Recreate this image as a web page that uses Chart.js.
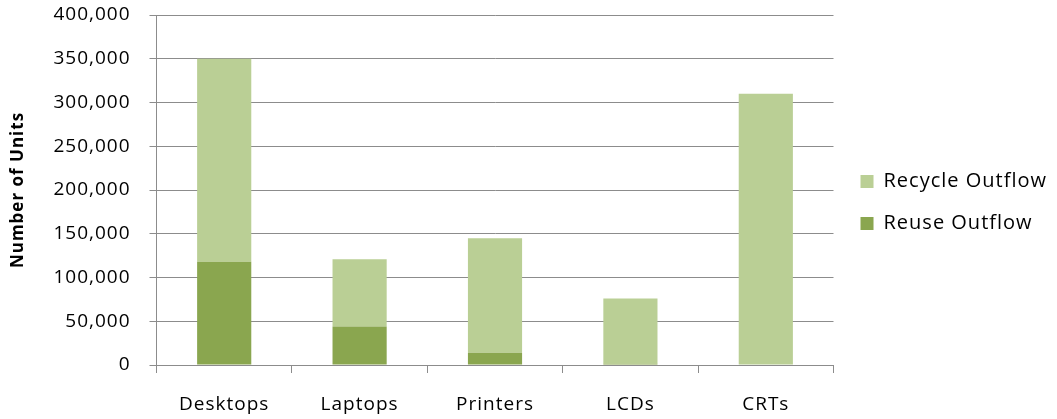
<!DOCTYPE html>
<html>
<head>
<meta charset="utf-8">
<script src="https://cdn.jsdelivr.net/npm/chart.js@4"></script>
<style>
html,body{margin:0;padding:0;background:#fff;overflow:hidden;}
#wrap{width:1057px;height:419px;position:relative;}
canvas{display:block;}
</style>
</head>
<body>
<div id="wrap"><canvas id="c" width="1057" height="419"></canvas></div>
<script>
const categories = ["Desktops", "Laptops", "Printers", "LCDs", "CRTs"];
const reuseOutflow = [118000, 44000, 14000, 1500, 0];
const recycleOutflow = [232000, 77000, 131000, 74500, 310000];
const yTicks = [0, 50000, 100000, 150000, 200000, 250000, 300000, 350000, 400000];
const seriesNames = ["Reuse Outflow", "Recycle Outflow"];
const yTitle = "Number of Units";

const FONT = "'Open Sans', sans-serif";
const gridCol = "#8c8c8c";

const spacing = {
  id: "spacing",
  beforeUpdate(chart) { chart.ctx.letterSpacing = "1px"; },
  afterLayout(chart) {
    const lg = chart.legend;
    if (lg) { lg.left += 5; lg.right += 5; }
  },
  beforeDraw(chart) { chart.ctx.letterSpacing = "1px"; }
};

new Chart(document.getElementById("c"), {
  type: "bar",
  data: {
    labels: categories,
    datasets: [
      { label: seriesNames[0], data: reuseOutflow, backgroundColor: "#8aa64f", categoryPercentage: 1, barPercentage: 0.4 },
      { label: seriesNames[1], data: recycleOutflow, backgroundColor: "#bacf95", categoryPercentage: 1, barPercentage: 0.4 }
    ]
  },
  plugins: [spacing],
  options: {
    responsive: false,
    animation: false,
    devicePixelRatio: 1,
    layout: { padding: { top: 15, left: 4, right: 5, bottom: 0 } },
    plugins: {
      tooltip: { enabled: false },
      legend: {
        position: "right",
        fullSize: false,
        reverse: true,
        title: { display: true, text: " ", font: { size: 12, lineHeight: 1 }, padding: { top: 6, bottom: 7 } },
        labels: {
          boxWidth: 13, boxHeight: 13, padding: 22,
          color: "#000",
          font: { family: FONT, size: 20 }
        }
      }
    },
    scales: {
      x: {
        stacked: true,
        afterFit: (s) => { s.height = 54; },
        grid: { offset: true, drawOnChartArea: false, color: gridCol, tickLength: 8 },
        border: { color: gridCol },
        ticks: { color: "#000", font: { family: FONT, size: 19 }, padding: 20 }
      },
      y: {
        stacked: true,
        min: 0, max: 400000,
        afterBuildTicks: (axis) => { axis.ticks = yTicks.map(v => ({ value: v })); },
        afterFit: (s) => { s.paddingTop = 0; s.paddingBottom = 0; },
        grid: { color: gridCol, tickLength: 7 },
        border: { color: gridCol },
        ticks: {
          color: "#000", font: { family: FONT, size: 19 }, padding: 19,
          callback: (v) => v.toLocaleString("en-US")
        },
        title: { display: true, text: yTitle, color: "#000", font: { family: FONT, size: 17, weight: "bold" }, padding: { bottom: 6 } }
      }
    }
  }
});
</script>
</body>
</html>
